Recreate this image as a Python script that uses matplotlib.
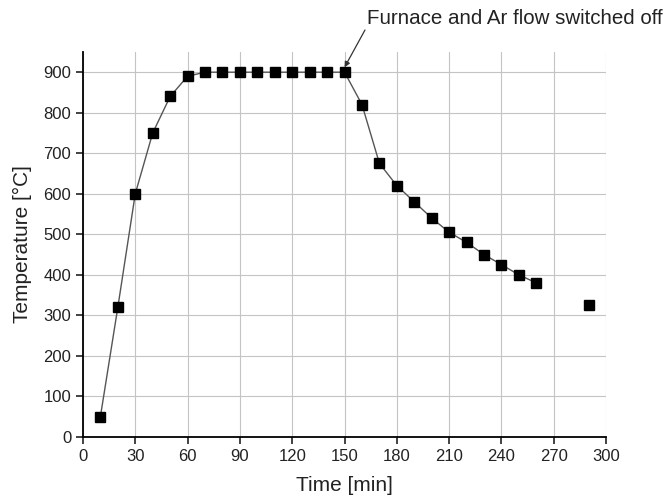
import matplotlib
matplotlib.use("Agg")
import matplotlib.pyplot as plt

# --------------------------------------------------
# Data
# --------------------------------------------------
time_min = [10, 20, 30, 40, 50, 60, 70, 80, 90, 100, 110, 120, 130, 140, 150,
            160, 170, 180, 190, 200, 210, 220, 230, 240, 250, 260]
temp_c = [50, 320, 600, 750, 840, 890, 900, 900, 900, 900, 900, 900, 900, 900, 900,
          820, 675, 620, 580, 540, 505, 480, 450, 425, 400, 380]

# isolated last reading
time_last = [290]
temp_last = [325]

x_ticks = list(range(0, 301, 30))
y_ticks = list(range(0, 901, 100))

# --------------------------------------------------
# Plot
# --------------------------------------------------
plt.rcParams['font.family'] = ['Liberation Sans', 'DejaVu Sans']

fig = plt.figure(figsize=(6.69, 5.04), dpi=100)
ax = fig.add_axes([0.124, 0.133, 0.782, 0.764])

ax.plot(time_min, temp_c, color='#555555', linewidth=1.0, zorder=2)
ax.plot(time_min, temp_c, linestyle='none', marker='s', markersize=6.5,
        color='black', zorder=3)
ax.plot(time_last, temp_last, linestyle='none', marker='s', markersize=6.5,
        color='black', zorder=3)

ax.set_xlim(0, 300)
ax.set_ylim(0, 950)
ax.set_xticks(x_ticks)
ax.set_yticks(y_ticks)
ax.grid(True, color='#c4c4c4', linewidth=0.8)
ax.set_axisbelow(True)

for side in ('top', 'right'):
    ax.spines[side].set_visible(False)
for side in ('left', 'bottom'):
    ax.spines[side].set_linewidth(1.3)

ax.tick_params(direction='out', length=5, width=1.2, labelsize=12, colors='#222222')
ax.set_xlabel("Time [min]", fontsize=15, color='#222222', labelpad=9)
ax.set_ylabel("Temperature [°C]", fontsize=15, color='#222222', labelpad=8)

ax.annotate("Furnace and Ar flow switched off", xy=(150, 900),
            xytext=(367, 486), textcoords='figure pixels',
            fontsize=14.8, color='#222222', ha='left', va='center',
            annotation_clip=False)
ax.annotate("", xy=(150, 912), xytext=(365, 474), textcoords='figure pixels',
            arrowprops=dict(arrowstyle='-|>', color='#333333', lw=0.9,
                            mutation_scale=8, shrinkA=0, shrinkB=0))

fig.savefig("out.png", dpi=100)
